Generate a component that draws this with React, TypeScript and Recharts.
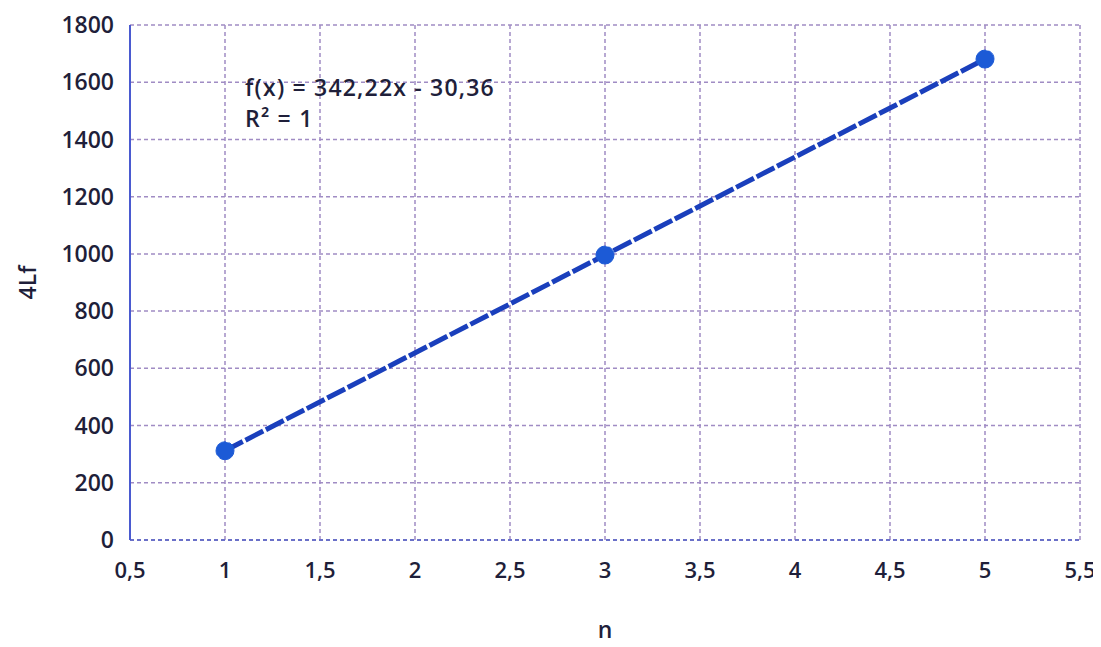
import React from "react";
import { LineChart, Line, XAxis, YAxis, CartesianGrid, Label } from "recharts";

const nValues = [1, 3, 5];
const lfValues = [312, 996, 1681];
const xTicks = [0.5, 1, 1.5, 2, 2.5, 3, 3.5, 4, 4.5, 5, 5.5];
const yTicks = [0, 200, 400, 600, 800, 1000, 1200, 1400, 1600, 1800];
const equationText = "f(x) = 342,22x - 30,36";
const r2Text = "R² = 1";
const xTitle = "n";
const yTitle = "4Lf";

const data = nValues.map((n, i) => ({ n, lf: lfValues[i] }));

const FONT = "'Open Sans', sans-serif";
const TEXT = "#1f1f3a";

const fmt = (v: number) => String(v).replace(".", ",");

export default function App() {
  return (
    <div style={{ position: "relative", width: 1093, height: 638, background: "#fff" }}>
      <style>{"html,body{overflow:hidden;}"}</style>
      <LineChart
        width={1093}
        height={638}
        data={data}
        margin={{ top: 17, right: 21, left: 0, bottom: 0 }}
      >
        <CartesianGrid stroke="#a08cc4" strokeDasharray="4 3" strokeWidth={1.5} />
        <XAxis
          dataKey="n"
          type="number"
          domain={[0.5, 5.5]}
          ticks={xTicks}
          tickFormatter={fmt}
          axisLine={{ stroke: "#6a70c8", strokeDasharray: "4 3", strokeWidth: 2 }}
          tickLine={false}
          tickSize={0}
          tickMargin={22}
          height={106}
          tick={{ fill: TEXT, fontSize: 22, fontFamily: FONT, fontWeight: 600 }}
          interval={0}
        >
          <Label
            value={xTitle}
            position="insideBottom"
            offset={8}
            style={{ fill: TEXT, fontSize: 23, fontFamily: FONT, fontWeight: 600 }}
          />
        </XAxis>
        <YAxis
          type="number"
          domain={[0, 1800]}
          ticks={yTicks}
          width={122}
          axisLine={{ stroke: "#4a5ad0", strokeWidth: 2 }}
          tickLine={false}
          tickSize={0}
          tickMargin={16}
          tick={{ fill: TEXT, fontSize: 23, fontFamily: FONT, fontWeight: 600 }}
          interval={0}
        >
          <Label
            value={yTitle}
            angle={-90}
            position="insideLeft"
            offset={20}
            style={{ fill: TEXT, fontSize: 23, fontFamily: FONT, fontWeight: 600, textAnchor: "middle" }}
          />
        </YAxis>
        <Line
          type="linear"
          dataKey="lf"
          stroke="#1a3fbc"
          strokeWidth={5}
          strokeDasharray="20 3"
          dot={{ r: 9, fill: "#1c5ad6", stroke: "#1c5ad6", strokeWidth: 1 }}
          activeDot={false}
          isAnimationActive={false}
        />
      </LineChart>
      <div
        style={{
          position: "absolute",
          left: 237,
          top: 64,
          fontFamily: FONT,
          fontWeight: 600,
          fontSize: 23,
          letterSpacing: "1.2px",
          color: TEXT,
          lineHeight: "31px",
          whiteSpace: "nowrap",
        }}
      >
        <div>{equationText}</div>
        <div>{r2Text}</div>
      </div>
    </div>
  );
}
